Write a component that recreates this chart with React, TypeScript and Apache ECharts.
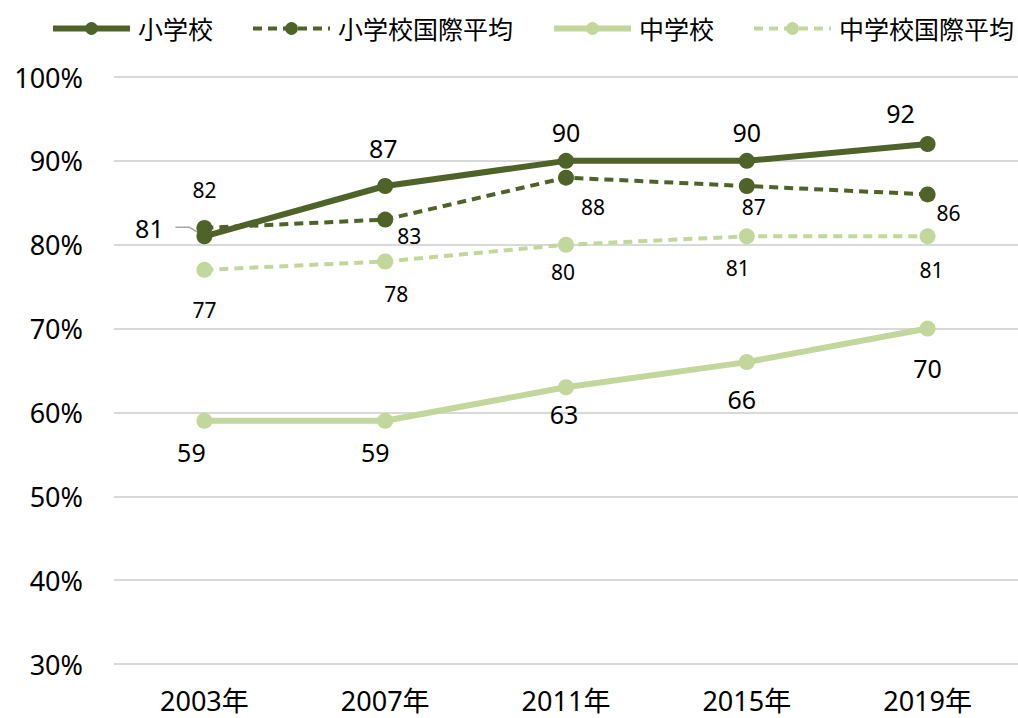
import React, { useEffect, useRef } from "react";
import * as echarts from "echarts";

const categories = ["2003年", "2007年", "2011年", "2015年", "2019年"];
const elementary = [81, 87, 90, 90, 92];
const elementaryIntl = [82, 83, 88, 87, 86];
const juniorHigh = [59, 59, 63, 66, 70];
const juniorHighIntl = [77, 78, 80, 81, 81];
const seriesNames = ["小学校", "小学校国際平均", "中学校", "中学校国際平均"];

// label offsets [dx, dy] relative to the point (style only)
const elemOffsets = [[-55, -8], [-2, -38], [0, -29], [0, -29], [-27, -31]];
const elemIntlOffsets = [[0, -38], [24, 16], [27, 29], [7, 21], [21, 19]];
const juniorOffsets = [[-13, 31], [-10, 31], [-2, 27], [-5, 37], [0, 39]];
const juniorIntlOffsets = [[0, 40], [11, 33], [-3, 27], [-9, 32], [4, 34]];

const DARK = "#4F6228";
const LIGHT = "#C3D69B";
const FONT = "'Noto Sans', 'Noto Sans CJK JP', sans-serif";

function buildData(values: number[], offsets: number[][], size: number) {
  return values.map((v, i) => ({
    value: v,
    label: {
      show: true,
      position: "inside",
      offset: offsets[i],
      fontSize: size,
      color: "#000",
      fontFamily: FONT,
    },
  }));
}

export default function App() {
  const ref = useRef<HTMLDivElement>(null);
  useEffect(() => {
    if (!ref.current) return;
    const chart = echarts.init(ref.current, null, { renderer: "svg" });
    const solid = { width: 6 };
    const dashed = { width: 4, type: [9, 6] };
    chart.setOption({
      animation: false,
      backgroundColor: "#fff",
      textStyle: { fontFamily: FONT },
      legend: {
        top: 16,
        left: 50,
        width: 968,
        padding: 0,
        itemWidth: 77,
        itemHeight: 16,
        itemGap: 38,
        textStyle: { fontSize: 25, color: "#000", fontFamily: FONT, padding: [0, 0, 0, 3] },
        data: [
          { name: seriesNames[0], lineStyle: { ...solid, color: DARK }, itemStyle: { color: DARK } },
          { name: seriesNames[1], lineStyle: { ...dashed, color: DARK }, itemStyle: { color: DARK } },
          { name: seriesNames[2], lineStyle: { ...solid, color: LIGHT }, itemStyle: { color: LIGHT } },
          { name: seriesNames[3], lineStyle: { ...dashed, color: LIGHT }, itemStyle: { color: LIGHT } },
        ],
      },
      grid: { left: 114, top: 77, width: 907, height: 587, containLabel: false },
      xAxis: {
        type: "category",
        data: categories,
        boundaryGap: true,
        axisLine: { show: false },
        axisTick: { show: false },
        axisLabel: { fontSize: 27, color: "#000", margin: 23, fontFamily: FONT },
      },
      yAxis: {
        type: "value",
        min: 30,
        max: 100,
        interval: 10,
        axisLine: { show: false },
        axisTick: { show: false },
        axisLabel: { fontSize: 27, color: "#000", margin: 31, formatter: "{value}%", fontFamily: FONT },
        splitLine: { lineStyle: { color: "#D9D9D9", width: 2 } },
      },
      series: [
        {
          name: seriesNames[0],
          type: "line",
          data: buildData(elementary, elemOffsets, 25),
          symbol: "circle",
          symbolSize: 16,
          z: 5,
          itemStyle: { color: DARK },
          lineStyle: { color: DARK, ...solid },
        },
        {
          name: seriesNames[1],
          type: "line",
          data: buildData(elementaryIntl, elemIntlOffsets, 21),
          symbol: "circle",
          symbolSize: 16,
          z: 4,
          itemStyle: { color: DARK },
          lineStyle: { color: DARK, ...dashed },
        },
        {
          name: seriesNames[2],
          type: "line",
          data: buildData(juniorHigh, juniorOffsets, 25),
          symbol: "circle",
          symbolSize: 16,
          z: 3,
          itemStyle: { color: LIGHT },
          lineStyle: { color: LIGHT, ...solid },
        },
        {
          name: seriesNames[3],
          type: "line",
          data: buildData(juniorHighIntl, juniorIntlOffsets, 21),
          symbol: "circle",
          symbolSize: 16,
          z: 2,
          itemStyle: { color: LIGHT },
          lineStyle: { color: LIGHT, ...dashed },
        },
      ],
    });
    // leader line for the first 小学校 label, anchored to the data point via the chart's scales
    const p = chart.convertToPixel({ seriesIndex: 0 }, [0, elementary[0]]) as number[];
    chart.setOption({
      graphic: [
        {
          type: "polyline",
          z: 1,
          shape: {
            points: [
              [p[0] - 29, p[1] - 9],
              [p[0] - 15, p[1] - 9],
              [p[0], p[1]],
            ],
          },
          style: { stroke: "#A6A6A6", lineWidth: 1.5, fill: "none" },
        },
      ],
    });
    return () => chart.dispose();
  }, []);
  return (
    <div
      ref={ref}
      style={{ position: "fixed", left: 0, top: 0, width: 1018, height: 718, background: "#fff" }}
    />
  );
}
